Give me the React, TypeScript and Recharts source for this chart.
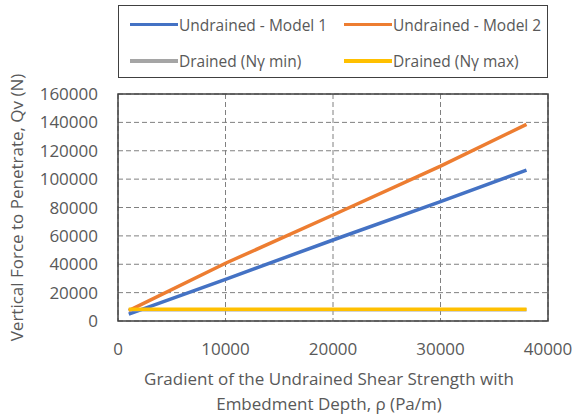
import {
  CartesianGrid,
  Line,
  LineChart,
  ReferenceArea,
  XAxis,
  YAxis,
} from "recharts";

// Vertical force to penetrate vs. gradient of undrained shear strength.
// Two undrained models rise linearly, the drained bounds sit flat near 8 kN.

const rho = [1000, 10000, 20000, 30000, 38000];
const undrainedModel1 = [4900, 29400, 57100, 84100, 106400];
const undrainedModel2 = [7300, 40700, 74700, 109200, 138600];
const drainedMin = [8000, 8000, 8000, 8000, 8000];
const drainedMax = [8200, 8200, 8200, 8200, 8200];

const xTicks = [0, 10000, 20000, 30000, 40000];
const yTicks = [0, 20000, 40000, 60000, 80000, 100000, 120000, 140000, 160000];

const seriesInfo = [
  { key: "m1", name: "Undrained - Model 1", color: "#4472C4" },
  { key: "m2", name: "Undrained - Model 2", color: "#ED7D31" },
  { key: "dmin", name: "Drained (N\u03b3 min)", color: "#A5A5A5" },
  { key: "dmax", name: "Drained (N\u03b3 max)", color: "#FFC000" },
];

const data = rho.map((x, i) => ({
  rho: x,
  m1: undrainedModel1[i],
  m2: undrainedModel2[i],
  dmin: drainedMin[i],
  dmax: drainedMax[i],
}));

const FONT = "'Open Sans', sans-serif";
const TEXT = "#595959";

// Boxed two-column legend above the plot, as in the spreadsheet original.
const BoxLegend = () => (
  <div
    style={{
      position: "absolute",
      left: 118,
      top: 5,
      boxSizing: "border-box",
      width: 430,
      height: 73,
      border: "1px solid #404040",
      background: "#fff",
      display: "grid",
      gridTemplateColumns: "214px 214px",
      gridTemplateRows: "37px 36px",
      paddingLeft: 11,
      fontFamily: FONT,
      fontSize: 15.5,
      color: TEXT,
    }}
  >
    {seriesInfo.map(s => (
      <div key={s.key} style={{ display: "flex", alignItems: "center", whiteSpace: "nowrap" }}>
        <span
          style={{
            display: "inline-block",
            width: 48,
            height: 3.5,
            background: s.color,
            marginRight: 1,
            flex: "none",
          }}
        />
        <span>{s.name}</span>
      </div>
    ))}
  </div>
);

const XTitle = ({ viewBox }: any) => {
  const cx = viewBox.x + viewBox.width / 2 - 4;
  return (
    <text
      textAnchor="middle"
      fill={TEXT}
      style={{ fontFamily: FONT, fontSize: 17 }}
    >
      <tspan x={cx} y={385}>
        Gradient of the Undrained Shear Strength with
      </tspan>
      <tspan x={cx} y={410}>
        Embedment Depth, ρ (Pa/m)
      </tspan>
    </text>
  );
};

export default function App() {
  return (
    <div style={{ position: "fixed", left: 0, top: 0, width: 572, height: 416, background: "#fff" }}>
      <LineChart
        width={572}
        height={416}
        data={data}
        margin={{ top: 94, right: 24, bottom: 0, left: 0 }}
      >
        <CartesianGrid stroke="#808080" strokeDasharray="5 3" strokeWidth={1} />
        <XAxis
          dataKey="rho"
          type="number"
          domain={[0, 40000]}
          ticks={xTicks}
          interval={0}
          height={95}
          axisLine={false}
          tickLine={false}
          tickMargin={16}
          tick={{ fill: TEXT, fontSize: 17, fontFamily: FONT }}
          label={<XTitle />}
        />
        <YAxis
          type="number"
          domain={[0, 160000]}
          ticks={yTicks}
          interval={0}
          width={118}
          axisLine={false}
          tickLine={false}
          tickMargin={14}
          tick={{ fill: TEXT, fontSize: 17, fontFamily: FONT }}
          label={{
            value: "Vertical Force to Penetrate, Qv (N)",
            angle: -90,
            position: "insideLeft",
            dx: 12,
            dy: 0,
            style: { textAnchor: "middle", fill: TEXT, fontSize: 17, fontFamily: FONT },
          }}
        />
        <ReferenceArea
          x1={0}
          x2={40000}
          y1={0}
          y2={160000}
          fill="none"
          stroke="#404040"
          strokeWidth={1.5}
        />
        {seriesInfo.map(s => (
          <Line
            key={s.key}
            type="linear"
            dataKey={s.key}
            name={s.name}
            stroke={s.color}
            strokeWidth={3.5}
            dot={false}
            isAnimationActive={false}
          />
        ))}
      </LineChart>
      <BoxLegend />
    </div>
  );
}
